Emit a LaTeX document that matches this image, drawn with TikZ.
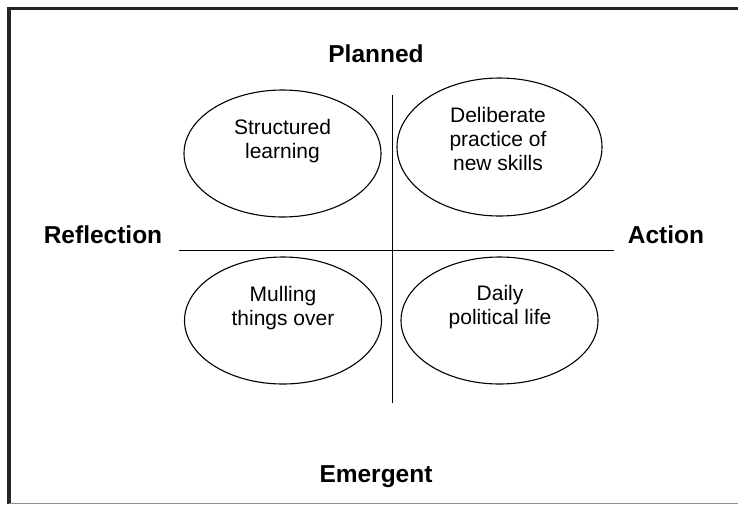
\documentclass[tikz,border=0pt]{standalone}
\usepackage{fontspec}
\setmainfont{Liberation Sans}
\usepackage{tikz}
\usetikzlibrary{shapes.geometric}
\newcommand{\wideoval}{197pt}
\newcommand{\highoval}{127pt}
\tikzset{
    oval/.style={draw, ellipse, line width=1.1pt, inner sep=0pt,
        minimum width=\wideoval, minimum height=\highoval},
    txt/.style={align=center, inner sep=0pt, font=\fontsize{21}{24}\selectfont},
    pole/.style={inner sep=0pt, font=\fontsize{24.5}{28}\selectfont\bfseries},
    axis/.style={line width=0.9pt}
}

\begin{document}
\begin{tikzpicture}[x=1pt, y=-1pt]
        \useasboundingbox (0,0) rectangle (738,504);

        % frame
        \draw[line width=3.5pt, black!85] (9,504) -- (9,8.5) -- (740,8.5);
        \draw[line width=1.4pt, black!45] (9,503.3) -- (740,503.3);

        % axes
        \coordinate (ax-top) at (392,95);
        \coordinate (ax-bottom) at (392,403);
        \coordinate (ax-left) at (179,250.5);
        \coordinate (ax-right) at (614,250.5);
        \draw[axis] (ax-top) -- (ax-bottom);
        \draw[axis] (ax-left) -- (ax-right);

        % poles
        \node[pole] (planned) at (376,53.5) {Planned};
        \node[pole] (emergent) at (376,477) {Emergent};
        \node[pole] (reflection) at (103,235) {Reflection};
        \node[pole] (action) at (666,235) {Action};

        % quadrants
        \node[oval] (structured) at (282.5,153.5) {};
        \node[oval, minimum width=205pt, minimum height=138pt] (deliberate) at (499.5,147) {};
        \node[oval] (mulling) at (283,320.5) {};
        \node[oval] (daily) at (499.5,320.5) {};

        \node[txt] (structured-text) at (282.5,141) {Structured\\learning};
        \node[txt] (deliberate-text) at (498,139) {Deliberate\\practice of\\new skills};
        \node[txt] (mulling-text) at (283,308.5) {Mulling\\things over};
        \node[txt] (daily-text) at (500,307.5) {Daily\\political life};
    \end{tikzpicture}
\end{document}
